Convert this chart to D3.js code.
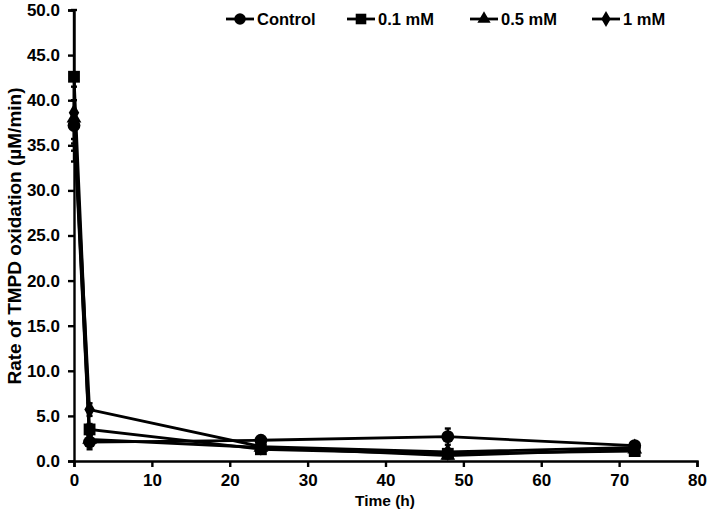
<!DOCTYPE html>
<html><head><meta charset="utf-8">
<script src="https://cdn.jsdelivr.net/npm/d3@7/dist/d3.min.js"></script>
<style>
body{margin:0;background:#fff;}
text{font-family:"Liberation Sans",Arial,sans-serif;font-weight:bold;fill:#000;}
</style></head><body>
<svg id="c" width="709" height="515"></svg>
<script>
const times = [0, 2, 24, 48, 72];
const seriesNames = ["Control", "0.1 mM", "0.5 mM", "1 mM"];
const controlVals = [37.2, 2.1, 2.3, 2.7, 1.7];
const controlErr  = [2.8, 0.8, 0.4, 0.9, 0.3];
const mM01Vals = [42.6, 3.5, 1.3, 0.8, 1.1];
const mM01Err  = [7.4, 0.6, 0.3, 0.3, 0.3];
const mM05Vals = [38.0, 2.4, 1.5, 0.6, 1.3];
const mM05Err  = [4.8, 0.5, 0.3, 0.3, 0.3];
const mM1Vals  = [38.6, 5.7, 1.6, 1.0, 1.5];
const mM1Err   = [2.9, 0.7, 0.3, 0.3, 0.3];
const xTicks = [0, 10, 20, 30, 40, 50, 60, 70, 80];
const yTicks = [0, 5, 10, 15, 20, 25, 30, 35, 40, 45, 50];

const svg = d3.select("#c");
const x = d3.scaleLinear().domain([0, 80]).range([74, 697]);
const y = d3.scaleLinear().domain([0, 50]).range([461, 10]);

const series = [
  {name: seriesNames[0], vals: controlVals, err: controlErr, sym: d3.symbolCircle, size: 130},
  {name: seriesNames[1], vals: mM01Vals, err: mM01Err, sym: d3.symbolSquare, size: 140},
  {name: seriesNames[2], vals: mM05Vals, err: mM05Err, sym: d3.symbolTriangle, size: 95},
  {name: seriesNames[3], vals: mM1Vals, err: mM1Err, sym: d3.symbolDiamond, size: 95}
];

const FONT = "Liberation Sans, Arial, sans-serif";
// axes
const xAxis = svg.append("g").attr("transform", `translate(0,${y(0)})`)
  .call(d3.axisBottom(x).tickValues(xTicks).tickSize(6).tickFormat(d3.format("d")));
const yAxis = svg.append("g").attr("transform", `translate(${x(0)},0)`)
  .call(d3.axisLeft(y).tickValues(yTicks).tickSize(6).tickFormat(d3.format(".1f")));
[xAxis, yAxis].forEach(a => {
  a.select(".domain").attr("stroke", "#000").attr("stroke-width", 2.4);
  a.selectAll(".tick line").attr("stroke", "#000").attr("stroke-width", 2.4);
  a.selectAll(".tick text").style("font-size", "17px").style("font-family", FONT).style("font-weight", "bold").attr("fill", "#000");
});
xAxis.selectAll(".tick text").attr("dy", "0.9em").attr("y", 10);
yAxis.selectAll(".tick text").attr("x", -14);

// axis titles
svg.append("text").attr("x", 385).attr("y", 506).attr("text-anchor", "middle").style("font-size", "15.5px").text("Time (h)");
svg.append("text").attr("transform", `translate(21,236) rotate(-90)`).attr("text-anchor", "middle").style("font-size", "19px").text("Rate of TMPD oxidation (µM/min)");

// data
const line = d3.line().x(d => x(d.t)).y(d => y(d.v));
const g = svg.append("g");
series.forEach(s => {
  const pts = times.map((t, i) => ({t, v: s.vals[i], e: s.err[i]}));
  g.append("path").datum(pts).attr("d", line).attr("fill", "none").attr("stroke", "#000").attr("stroke-width", 2.8);
  pts.forEach(p => {
    g.append("line").attr("x1", x(p.t)).attr("x2", x(p.t)).attr("y1", y(p.v - p.e)).attr("y2", y(p.v + p.e)).attr("stroke", "#000").attr("stroke-width", 2.4);
    [p.v - p.e, p.v + p.e].forEach(v => g.append("line").attr("x1", x(p.t) - 3).attr("x2", x(p.t) + 3).attr("y1", y(v)).attr("y2", y(v)).attr("stroke", "#000").attr("stroke-width", 2.4));
    g.append("path").attr("d", d3.symbol().type(s.sym).size(s.size)()).attr("transform", `translate(${x(p.t)},${y(p.v)})`).attr("fill", "#000");
  });
});

// legend
const legX = [226, 347, 470, 592];
series.forEach((s, i) => {
  const lg = svg.append("g").attr("transform", `translate(${legX[i]},19)`);
  lg.append("line").attr("x1", 0).attr("x2", 28).attr("y1", 0).attr("y2", 0).attr("stroke", "#000").attr("stroke-width", 2.8);
  lg.append("path").attr("d", d3.symbol().type(s.sym).size(s.size * 0.8)()).attr("transform", "translate(14,0)").attr("fill", "#000");
  lg.append("text").attr("x", 31).attr("y", 6).style("font-size", "16.5px").text(s.name);
});
</script>
</body></html>
